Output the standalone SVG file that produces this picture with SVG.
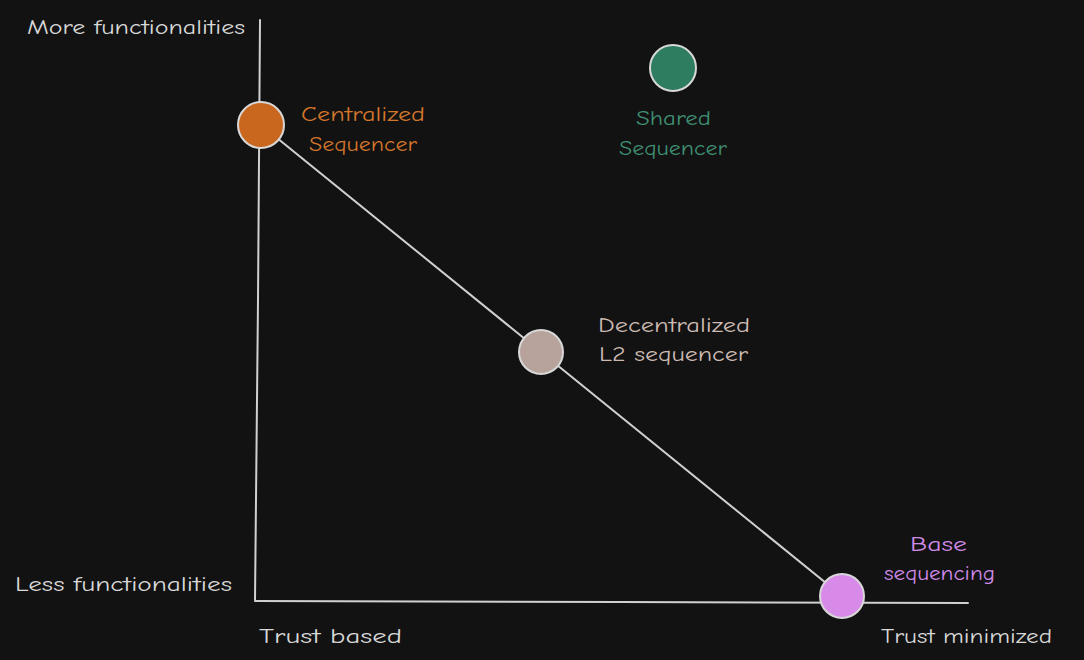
<svg xmlns="http://www.w3.org/2000/svg" width="1084" height="660" viewBox="0 0 1084 660">
<style>
text{font-family:"Comic Neue","Liberation Sans",sans-serif;font-size:21px}
.ax{fill:#d8d8d8}
.ln{stroke:#d0d0d0;stroke-width:2;fill:none;stroke-linecap:round}
.node{stroke:#d8d8d8;stroke-width:2}
</style>
<rect width="1084" height="660" fill="#121212"/>
<g id="connectors">
<path class="ln" d="M260 20 L258 300 L255 600"/>
<path class="ln" d="M255 601 L620 602 L968 603"/>
<path class="ln" d="M261 125 L842 596"/>
</g>
<g id="axis-labels">
<text class="ax" x="27" y="34" textLength="218" lengthAdjust="spacingAndGlyphs">More functionalities</text>
<text class="ax" x="15" y="591" textLength="217" lengthAdjust="spacingAndGlyphs">Less functionalities</text>
<text class="ax" x="259" y="643" textLength="143" lengthAdjust="spacingAndGlyphs">Trust based</text>
<text class="ax" x="881" y="643" textLength="171" lengthAdjust="spacingAndGlyphs">Trust minimized</text>
</g>
<g id="centralized">
<circle class="node" cx="261" cy="125" r="23" fill="#c9671f"/>
<text x="301" y="121" fill="#d4762c" textLength="124" lengthAdjust="spacingAndGlyphs">Centralized</text>
<text x="309" y="151" fill="#d4762c" textLength="108" lengthAdjust="spacingAndGlyphs">Sequencer</text>
</g>
<g id="shared">
<circle class="node" cx="673" cy="68" r="23" fill="#2f7d61"/>
<text x="636" y="125" fill="#3f8f72" textLength="75" lengthAdjust="spacingAndGlyphs">Shared</text>
<text x="619" y="155" fill="#3f8f72" textLength="108" lengthAdjust="spacingAndGlyphs">Sequencer</text>
</g>
<g id="decentralized">
<circle class="node" cx="541" cy="352" r="22" fill="#b7a39c"/>
<text x="598" y="332" fill="#cdbbb3" textLength="152" lengthAdjust="spacingAndGlyphs">Decentralized</text>
<text x="599" y="361" fill="#cdbbb3" textLength="149" lengthAdjust="spacingAndGlyphs">L2 sequencer</text>
</g>
<g id="base">
<circle class="node" cx="842" cy="596" r="22" fill="#d88ae8"/>
<text x="910" y="551" fill="#d08be8" textLength="57" lengthAdjust="spacingAndGlyphs">Base</text>
<text x="884" y="580" fill="#d08be8" textLength="111" lengthAdjust="spacingAndGlyphs">sequencing</text>
</g>
</svg>
